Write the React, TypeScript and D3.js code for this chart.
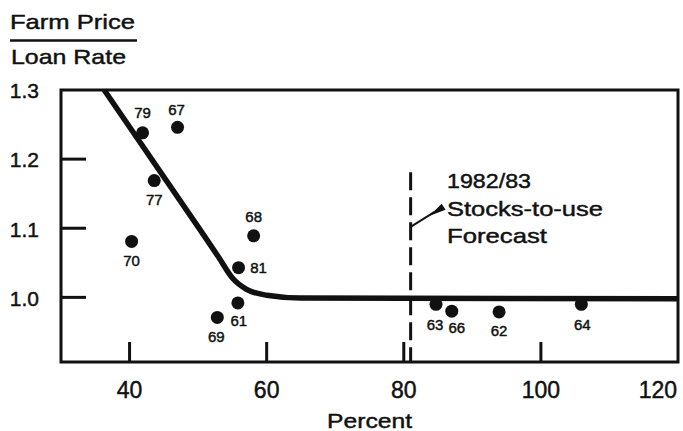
import React, {useEffect, useRef} from 'react'
import * as d3 from 'd3'

const width = 683
const height = 431
const plot = {left: 61, right: 678, top: 90, bottom: 362}
const font = '"Liberation Sans", Arial, Helvetica, sans-serif'
const ink = '#111'

// crop years and their points (stocks-to-use %, farm price / loan rate)
const years = ['79', '67', '77', '70', '68', '81', '61', '69', '63', '66', '62', '64']
const stocksToUse = [41.9, 47.0, 43.6, 40.3, 58.1, 55.9, 55.8, 52.8, 84.7, 87.0, 93.9, 105.9]
const priceRatio = [1.238, 1.246, 1.169, 1.081, 1.089, 1.043, 0.992, 0.971, 0.99, 0.98, 0.979, 0.99]

// fitted relationship
const curveStocks = [36.3, 50, 53, 55, 57, 60, 65, 120]
const curveRatio = [1.3, 1.102, 1.058, 1.028, 1.012, 1.003, 0.999, 0.998]

const xTicks = [40, 60, 80, 100, 120]
const yTicks = [1.0, 1.1, 1.2, 1.3]
const forecastStocks = 81
const forecastLines = ['1982/83', 'Stocks-to-use', 'Forecast']

// where each year label sits relative to its dot (px)
const labelOffset: Record<string, [number, number]> = {
  '79': [0, -20], '67': [-1, -18], '77': [0, 19], '70': [0, 19],
  '68': [0, -19], '81': [20, 0], '61': [1, 18], '69': [-1, 19],
  '63': [-1, 20], '66': [5, 17], '62': [0, 19], '64': [1, 20],
}

const App = () => {
  const chartRef = useRef<SVGSVGElement | null>(null)

  useEffect(() => {
    drawChart()
  }, [])

  const drawChart = () => {
    const svg = d3.select(chartRef.current)
    svg.selectAll('*').remove()

    const x = d3.scaleLinear().domain([30, 120]).range([plot.left, plot.right])
    const y = d3.scaleLinear().domain([0.9065, 1.3]).range([plot.bottom, plot.top])

    svg.append('rect').attr('width', width).attr('height', height).attr('fill', '#fff')

    const txt = svg.append('g').attr('stroke', ink).attr('stroke-width', 0.45)

    // title: Farm Price over Loan Rate
    txt.append('text')
      .attr('x', 10).attr('y', 29)
      .attr('font-size', 21).attr('textLength', 125).attr('lengthAdjust', 'spacingAndGlyphs')
      .text('Farm Price')
    svg.append('line')
      .attr('x1', 10).attr('x2', 137).attr('y1', 40.5).attr('y2', 40.5)
      .attr('stroke', ink).attr('stroke-width', 2.5)
    txt.append('text')
      .attr('x', 11).attr('y', 64)
      .attr('font-size', 21).attr('textLength', 115).attr('lengthAdjust', 'spacingAndGlyphs')
      .text('Loan Rate')

    // frame
    svg.append('rect')
      .attr('x', plot.left).attr('y', plot.top)
      .attr('width', plot.right - plot.left).attr('height', plot.bottom - plot.top)
      .attr('fill', 'none').attr('stroke', ink).attr('stroke-width', 3)

    // y ticks (inside) and labels
    svg.selectAll('.ytick')
      .data(yTicks.filter(d => d < 1.3))
      .enter()
      .append('line')
      .attr('x1', plot.left).attr('x2', plot.left + 25)
      .attr('y1', d => y(d)).attr('y2', d => y(d))
      .attr('stroke', ink).attr('stroke-width', 3)
    txt.selectAll('.ylab')
      .data(yTicks)
      .enter()
      .append('text')
      .attr('x', 39).attr('y', d => y(d) + 1)
      .attr('dy', '0.35em').attr('text-anchor', 'end')
      .attr('font-size', 21)
      .text(d => d3.format('.1f')(d))

    // x ticks (inside, pointing up) and labels
    svg.selectAll('.xtick')
      .data(xTicks.filter(d => d < 120))
      .enter()
      .append('line')
      .attr('x1', d => x(d)).attr('x2', d => x(d))
      .attr('y1', plot.bottom).attr('y2', plot.bottom - 20)
      .attr('stroke', ink).attr('stroke-width', 3)
    txt.selectAll('.xlab')
      .data(xTicks)
      .enter()
      .append('text')
      .attr('x', d => (d === 120 ? x(d) - 1 : x(d)))
      .attr('y', 398)
      .attr('text-anchor', d => (d === 120 ? 'end' : 'middle'))
      .attr('font-size', 23)
      .text(d => d)

    txt.append('text')
      .attr('x', 327).attr('y', 428)
      .attr('font-size', 21).attr('textLength', 85).attr('lengthAdjust', 'spacingAndGlyphs')
      .text('Percent')

    // forecast marker
    const fx = x(forecastStocks)
    svg.append('line')
      .attr('x1', fx).attr('x2', fx)
      .attr('y1', y(1.181)).attr('y2', plot.bottom)
      .attr('stroke', ink).attr('stroke-width', 3)
      .attr('stroke-dasharray', '18,7')

    const ay = y(1.102)
    const tipX = fx + 32
    const tipY = ay - 20
    svg.append('line')
      .attr('x1', fx).attr('y1', ay).attr('x2', tipX - 8).attr('y2', tipY + 5)
      .attr('stroke', ink).attr('stroke-width', 2)
    svg.append('path')
      .attr('d', `M${tipX - 13},${tipY + 9} L${tipX - 1},${tipY - 3} L${tipX + 3},${tipY + 3} Z`)
      .attr('fill', ink)

    txt.append('g')
      .selectAll('text')
      .data(forecastLines)
      .enter()
      .append('text')
      .attr('x', 447)
      .attr('y', (d, i) => 188 + i * 27.5)
      .attr('font-size', 21)
      .attr('textLength', (d, i) => [84, 156, 100][i])
      .attr('lengthAdjust', 'spacingAndGlyphs')
      .text(d => d)

    // fitted curve
    const curve = d3.line<number>()
      .x((d, i) => x(curveStocks[i]))
      .y(d => y(d))
      .curve(d3.curveMonotoneX)
    svg.append('path')
      .attr('d', curve(curveRatio))
      .attr('fill', 'none').attr('stroke', ink).attr('stroke-width', 5.5)

    // year points
    const idx = d3.range(years.length)
    svg.selectAll('.dot')
      .data(idx)
      .enter()
      .append('circle')
      .attr('cx', i => x(stocksToUse[i]))
      .attr('cy', i => y(priceRatio[i]))
      .attr('r', 6.5)
      .attr('fill', ink)
    txt.selectAll('.lab')
      .data(idx)
      .enter()
      .append('text')
      .attr('x', i => x(stocksToUse[i]) + labelOffset[years[i]][0])
      .attr('y', i => y(priceRatio[i]) + labelOffset[years[i]][1])
      .attr('dy', '0.35em').attr('text-anchor', 'middle')
      .attr('font-size', 15)
      .text(i => years[i])
  }

  return (
    <svg
      ref={chartRef}
      width={width}
      height={height}
      fontFamily={font}
      fill={ink}
      style={{position: 'absolute', left: 0, top: 0}}
    ></svg>
  )
}

export default App
